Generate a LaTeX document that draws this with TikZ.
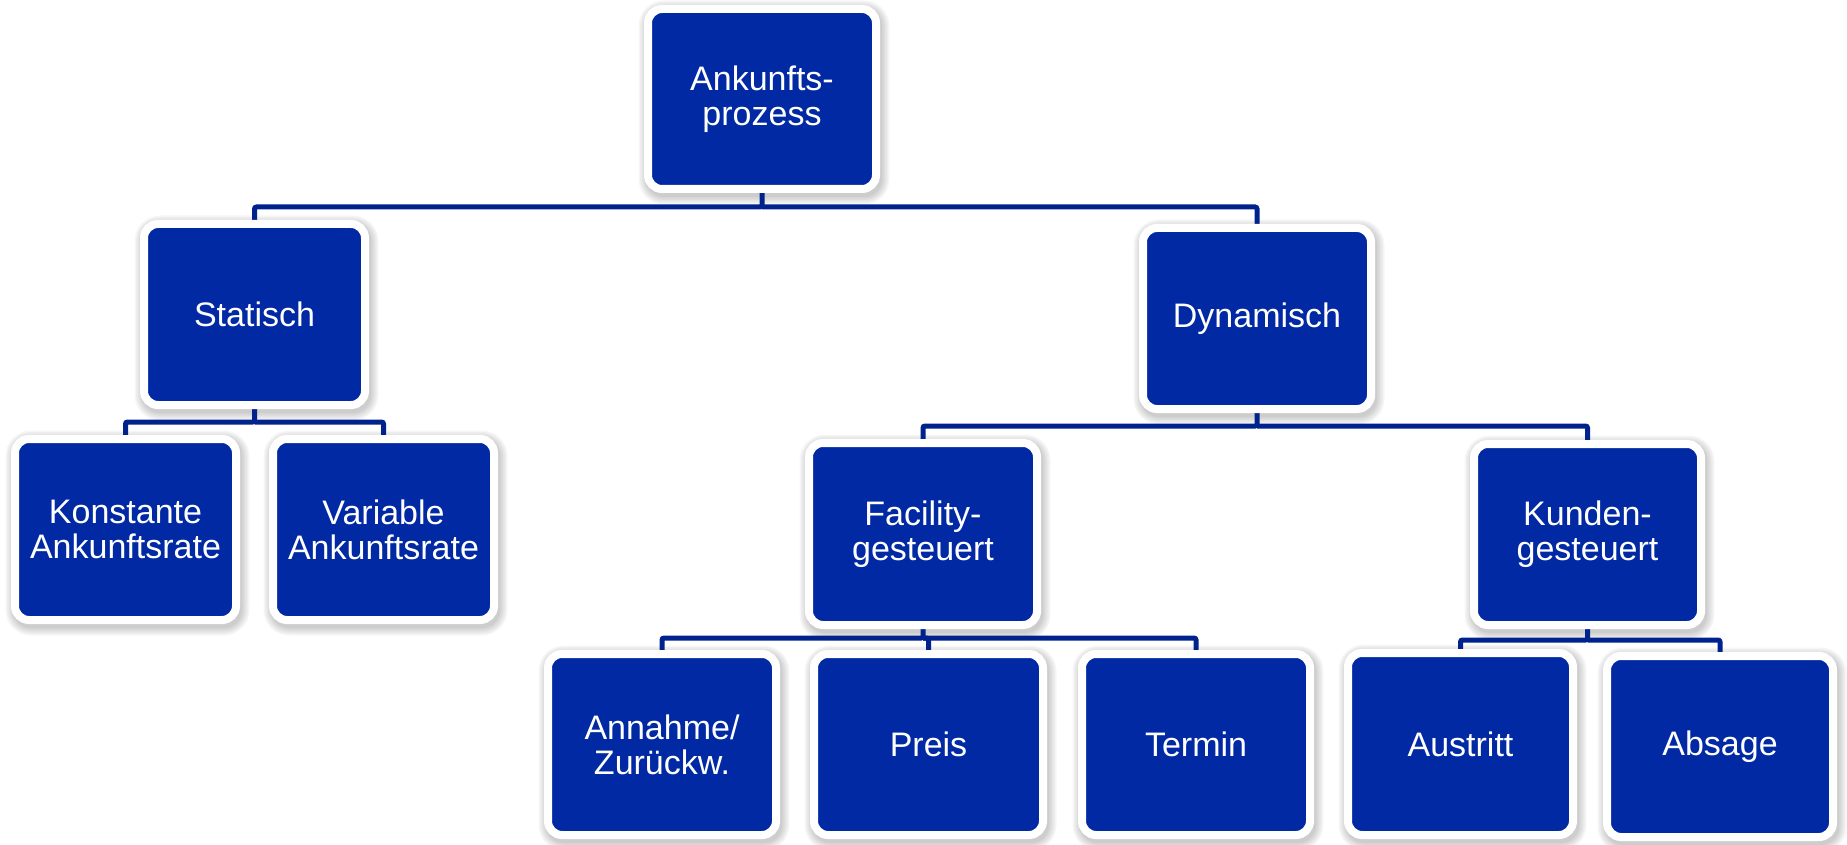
\documentclass[tikz,border=0pt]{standalone}
\usepackage{fontspec}
\setmainfont{Liberation Sans}
\usetikzlibrary{backgrounds,calc}
\definecolor{boxblue}{RGB}{0,41,163}
\definecolor{lineblue}{RGB}{0,34,140}
\begin{document}
\begin{tikzpicture}[x=1pt,y=-1pt,
  box/.style={rectangle, rounded corners=14pt, fill=boxblue, draw=white, line width=8pt,
    outer sep=0pt, inner sep=0pt, align=center, text=white,
    font=\fontsize{34}{35}\selectfont},
  conn/.style={draw=lineblue, line width=5pt, rounded corners=2pt},
  shade/.style={fill=black, opacity=0.035}]
\useasboundingbox (0,0) rectangle (1847,845);
\node[box, minimum width=228pt, minimum height=180pt] (root) at (762,99) {Ankunfts-\\prozess};
\node[box, minimum width=221pt, minimum height=181pt] (stat) at (254.5,314.5) {Statisch};
\node[box, minimum width=228pt, minimum height=181pt] (dyn) at (1257,318.5) {Dynamisch};
\node[box, minimum width=221pt, minimum height=181pt] (konst) at (125.5,529.5) {Konstante\\Ankunftsrate};
\node[box, minimum width=221pt, minimum height=181pt] (var) at (383.5,529.5) {Variable\\Ankunftsrate};
\node[box, minimum width=228pt, minimum height=182pt] (fac) at (923,534) {Facility-\\gesteuert};
\node[box, minimum width=227pt, minimum height=181pt] (kund) at (1587.5,534.5) {Kunden-\\gesteuert};
\node[box, minimum width=228pt, minimum height=181pt] (ann) at (662,744.5) {Annahme/\\Zurückw.};
\node[box, minimum width=229pt, minimum height=181pt] (preis) at (928.5,744.5) {Preis};
\node[box, minimum width=228pt, minimum height=181pt] (term) at (1196,744.5) {Termin};
\node[box, minimum width=225pt, minimum height=182pt] (aus) at (1460.5,744) {Austritt};
\node[box, minimum width=226pt, minimum height=181pt] (abs) at (1720,746.5) {Absage};
\coordinate (b1) at (0,207);
\coordinate (b2) at (0,422);
\coordinate (b3) at (0,426);
\coordinate (b4) at (0,638);
\coordinate (b5) at (0,640);
\begin{scope}[on background layer]
  \foreach \n in {root,stat,dyn,konst,var,fac,kund,ann,preis,term,aus,abs}{
    \foreach \e in {0,1.5,3,4.5,6,7.5}{
      \fill[shade, rounded corners={18pt+\e pt}]
        ($(\n.north west)+(-2-\e,-1-\e)$) rectangle ($(\n.south east)+(6+\e,8+\e)$);
    }
  }
  \draw[conn] (root.south) -- (root.south |- b1) -| (stat.north);
  \draw[conn] (root.south |- b1) -| (dyn.north);
  \draw[conn] (stat.south) -- (stat.south |- b2) -| (konst.north);
  \draw[conn] (stat.south |- b2) -| (var.north);
  \draw[conn] (dyn.south) -- (dyn.south |- b3) -| (fac.north);
  \draw[conn] (dyn.south |- b3) -| (kund.north);
  \draw[conn] (fac.south) -- (fac.south |- b4) -| (ann.north);
  \draw[conn] (fac.south |- b4) -| (preis.north);
  \draw[conn] (fac.south |- b4) -| (term.north);
  \draw[conn] (kund.south) -- (kund.south |- b5) -| (aus.north);
  \draw[conn] (kund.south |- b5) -| (abs.north);
\end{scope}
\end{tikzpicture}
\end{document}
